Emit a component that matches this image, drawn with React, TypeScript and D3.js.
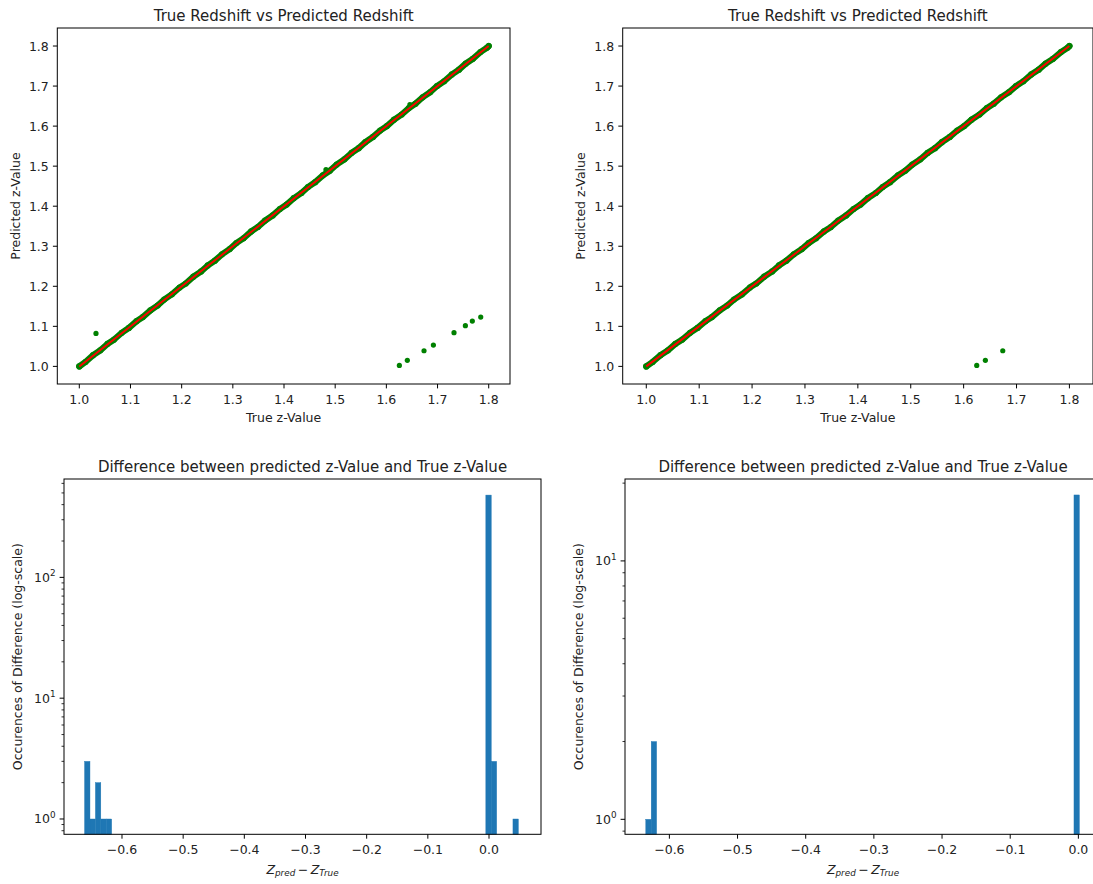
import React from "react";
import * as d3 from "d3";

// objects that sit on the diagonal (true vs predicted), both runs
const lineTrue = [
  1.0, 1.012, 1.027, 1.041, 1.055, 1.068, 1.083, 1.097, 1.112, 1.124, 1.139, 1.153,
  1.166, 1.181, 1.196, 1.208, 1.223, 1.238, 1.251, 1.265, 1.279, 1.294, 1.307, 1.321,
  1.336, 1.349, 1.363, 1.378, 1.392, 1.405, 1.419, 1.434, 1.447, 1.461, 1.476, 1.49,
  1.503, 1.518, 1.532, 1.546, 1.559, 1.574, 1.588, 1.601, 1.615, 1.63, 1.644, 1.657,
  1.671, 1.686, 1.699, 1.713, 1.728, 1.742, 1.755, 1.769, 1.784, 1.797, 1.8,
];
const linePred = [
  1.0, 1.011, 1.028, 1.04, 1.056, 1.067, 1.084, 1.096, 1.113, 1.123, 1.14, 1.152,
  1.167, 1.18, 1.197, 1.207, 1.224, 1.237, 1.252, 1.264, 1.28, 1.293, 1.308, 1.32,
  1.337, 1.348, 1.364, 1.377, 1.393, 1.404, 1.42, 1.433, 1.448, 1.46, 1.477, 1.489,
  1.504, 1.517, 1.533, 1.545, 1.56, 1.573, 1.589, 1.6, 1.616, 1.629, 1.645, 1.656,
  1.672, 1.685, 1.7, 1.712, 1.729, 1.741, 1.756, 1.768, 1.785, 1.796, 1.8,
];

// stray points, first run
const strayTrueA = [1.0326, 1.482, 1.646, 1.6254, 1.641, 1.6736, 1.6919, 1.7322, 1.7544, 1.768, 1.7844];
const strayPredA = [1.0824, 1.4912, 1.6535, 1.0025, 1.015, 1.039, 1.0533, 1.0841, 1.1016, 1.1132, 1.1232];
// stray points, second run
const strayTrueB = [1.6248, 1.6411, 1.674];
const strayPredB = [1.0025, 1.015, 1.039];

// y = x reference
const refLine = [1.0, 1.8];

const zTicks = [1.0, 1.1, 1.2, 1.3, 1.4, 1.5, 1.6, 1.7, 1.8];
const diffTicks = [-0.6, -0.5, -0.4, -0.3, -0.2, -0.1, 0.0];

// histograms of (pred - true), 80 bins between min and max diff
const nBins = 80;
const diffMinA = -0.6612;
const diffMaxA = 0.048;
const binIdxA = [0, 1, 2, 3, 4, 74, 75, 79];
const binCntA = [3, 1, 2, 1, 1, 480, 3, 1];
const diffMinB = -0.6346;
const diffMaxB = 0.0015;
const binIdxB = [0, 1, 79];
const binCntB = [1, 2, 18];

const FONT = "DejaVu Sans, Verdana, sans-serif";
const TICK_FS = 12.5;
const TITLE_FS = 15;
const MAJ = 4.4;
const MIN = 2.5;

type Box = { x0: number; x1: number; y0: number; y1: number };

const fmtZ = (v: number) => v.toFixed(1);
const fmtDiff = (v: number) => (v < 0 ? "\u2212" + Math.abs(v).toFixed(1) : v.toFixed(1));

const Frame = ({ b }: { b: Box }) => (
  <rect x={b.x0} y={b.y0} width={b.x1 - b.x0} height={b.y1 - b.y0} fill="none" stroke="#000" strokeWidth={1} />
);

const XTicks = ({ b, x, ticks, fmt }: { b: Box; x: any; ticks: number[]; fmt: (v: number) => string }) => (
  <g>
    {ticks.map((t) => (
      <g key={t} transform={`translate(${x(t)},${b.y1})`}>
        <line y2={MAJ} stroke="#000" strokeWidth={1} />
        <text y={19.5} textAnchor="middle" fontSize={TICK_FS} fill="#222">
          {fmt(t)}
        </text>
      </g>
    ))}
  </g>
);

const ScatterPanel = ({
  b, xDom, yDom, strayX, strayY,
}: { b: Box; xDom: number[]; yDom: number[]; strayX: number[]; strayY: number[] }) => {
  const x = d3.scaleLinear().domain(xDom).range([b.x0, b.x1]);
  const y = d3.scaleLinear().domain(yDom).range([b.y1, b.y0]);
  const band = d3.line<number>().x((d) => x(d)).y((_, i) => y(linePred[i]));
  const cx = (b.x0 + b.x1) / 2;
  const cy = (b.y0 + b.y1) / 2;
  const clipId = `clip${Math.round(b.x0)}`;
  return (
    <g>
      <clipPath id={clipId}>
        <rect x={b.x0} y={b.y0} width={b.x1 - b.x0} height={b.y1 - b.y0} />
      </clipPath>
      <g clipPath={`url(#${clipId})`}>
        <path d={band(lineTrue) || ""} fill="none" stroke="green" strokeWidth={6.2} strokeLinecap="round" strokeLinejoin="round" />
        {lineTrue.map((d, i) => (
          <circle key={i} cx={x(d)} cy={y(linePred[i])} r={3.1} fill="green" />
        ))}
        {strayX.map((d, i) => (
          <circle key={"s" + i} cx={x(d)} cy={y(strayY[i])} r={2.6} fill="green" />
        ))}
        <line x1={x(refLine[0])} y1={y(refLine[0])} x2={x(refLine[1])} y2={y(refLine[1])} stroke="red" strokeWidth={1.9} />
      </g>
      <Frame b={b} />
      <XTicks b={b} x={x} ticks={zTicks} fmt={fmtZ} />
      {zTicks.map((t) => (
        <g key={t} transform={`translate(${b.x0},${y(t)})`}>
          <line x2={-MAJ} stroke="#000" strokeWidth={1} />
          <text x={-8.5} dy="0.36em" textAnchor="end" fontSize={TICK_FS} fill="#222">
            {fmtZ(t)}
          </text>
        </g>
      ))}
      <text x={cx} y={b.y0 - 7.5} textAnchor="middle" fontSize={TITLE_FS} fill="#222">
        True Redshift vs Predicted Redshift
      </text>
      <text x={cx} y={b.y1 + 38} textAnchor="middle" fontSize={TICK_FS} fill="#222">
        True z-Value
      </text>
      <text transform={`translate(${b.x0 - 37.5},${cy}) rotate(-90)`} textAnchor="middle" fontSize={TICK_FS} fill="#222">
        Predicted z-Value
      </text>
    </g>
  );
};

const HistPanel = ({
  b, xDom, yDom, lo, hi, idx, cnt,
}: { b: Box; xDom: number[]; yDom: number[]; lo: number; hi: number; idx: number[]; cnt: number[] }) => {
  const x = d3.scaleLinear().domain(xDom).range([b.x0, b.x1]);
  const y = d3.scaleLog().domain(yDom).range([b.y1, b.y0]);
  const w = (hi - lo) / nBins;
  const yTicks = y.ticks();
  const isMajor = (t: number) => Math.abs(Math.log10(t) - Math.round(Math.log10(t))) < 1e-9;
  const cx = (b.x0 + b.x1) / 2;
  const cy = (b.y0 + b.y1) / 2;
  return (
    <g>
      {idx.map((k, i) => {
        const xa = x(lo + k * w);
        const xb = x(lo + (k + 1) * w);
        const top = y(cnt[i]);
        return (
          <rect key={k} x={xa} y={top} width={xb - xa} height={b.y1 - top}
            fill="#1f77b4" stroke="#1f77b4" strokeWidth={0.4} />
        );
      })}
      <Frame b={b} />
      <XTicks b={b} x={x} ticks={diffTicks} fmt={fmtDiff} />
      {yTicks.map((t) => {
        const major = isMajor(t);
        return (
          <g key={t} transform={`translate(${b.x0},${y(t)})`}>
            <line x2={major ? -MAJ : -MIN} stroke="#000" strokeWidth={major ? 1 : 0.8} />
            {major && (
              <text x={-8.5} dy="0.36em" textAnchor="end" fontSize={TICK_FS} fill="#222">
                10
                <tspan dy={-5.5} fontSize={8.8}>
                  {Math.round(Math.log10(t))}
                </tspan>
              </text>
            )}
          </g>
        );
      })}
      <text x={cx} y={b.y0 - 7.5} textAnchor="middle" fontSize={TITLE_FS} fill="#222">
        Difference between predicted z-Value and True z-Value
      </text>
      <text x={cx} y={b.y1 + 39.5} textAnchor="middle" fontSize={TICK_FS} fill="#222">
        <tspan fontStyle="italic">Z</tspan>
        <tspan fontStyle="italic" fontSize={8.8} dy={2.5}>pred</tspan>
        <tspan dy={-2.5}>{"\u2009\u2212\u2009"}</tspan>
        <tspan fontStyle="italic">Z</tspan>
        <tspan fontStyle="italic" fontSize={8.8} dy={2.5}>True</tspan>
      </text>
      <text transform={`translate(${b.x0 - 42.5},${cy}) rotate(-90)`} textAnchor="middle" fontSize={TICK_FS} fill="#222">
        Occurences of Difference (log-scale)
      </text>
    </g>
  );
};

export default function App() {
  const W = 1093;
  const H = 884;
  return (
    <div style={{ position: "absolute", left: 0, top: 0, width: W, height: H, overflow: "hidden", background: "#fff" }}>
      <svg width={W} height={H} style={{ display: "block", fontFamily: FONT }}>
        <rect width={W} height={H} fill="#fff" />
        <ScatterPanel
          b={{ x0: 57.3, x1: 510, y0: 28, y1: 384 }}
          xDom={[0.957, 1.8416]}
          yDom={[0.956, 1.845]}
          strayX={strayTrueA}
          strayY={strayPredA}
        />
        <ScatterPanel
          b={{ x0: 622.7, x1: 1093, y0: 28, y1: 384 }}
          xDom={[0.9554, 1.8446]}
          yDom={[0.956, 1.845]}
          strayX={strayTrueB}
          strayY={strayPredB}
        />
        <HistPanel
          b={{ x0: 64, x1: 541, y0: 479, y1: 834.3 }}
          xDom={[-0.6948, 0.085]}
          yDom={[0.747, 652]}
          lo={diffMinA}
          hi={diffMaxA}
          idx={binIdxA}
          cnt={binCntA}
        />
        <HistPanel
          b={{ x0: 625, x1: 1101, y0: 479, y1: 834.3 }}
          xDom={[-0.6651, 0.0332]}
          yDom={[0.875, 20.75]}
          lo={diffMinB}
          hi={diffMaxB}
          idx={binIdxB}
          cnt={binCntB}
        />
      </svg>
    </div>
  );
}
